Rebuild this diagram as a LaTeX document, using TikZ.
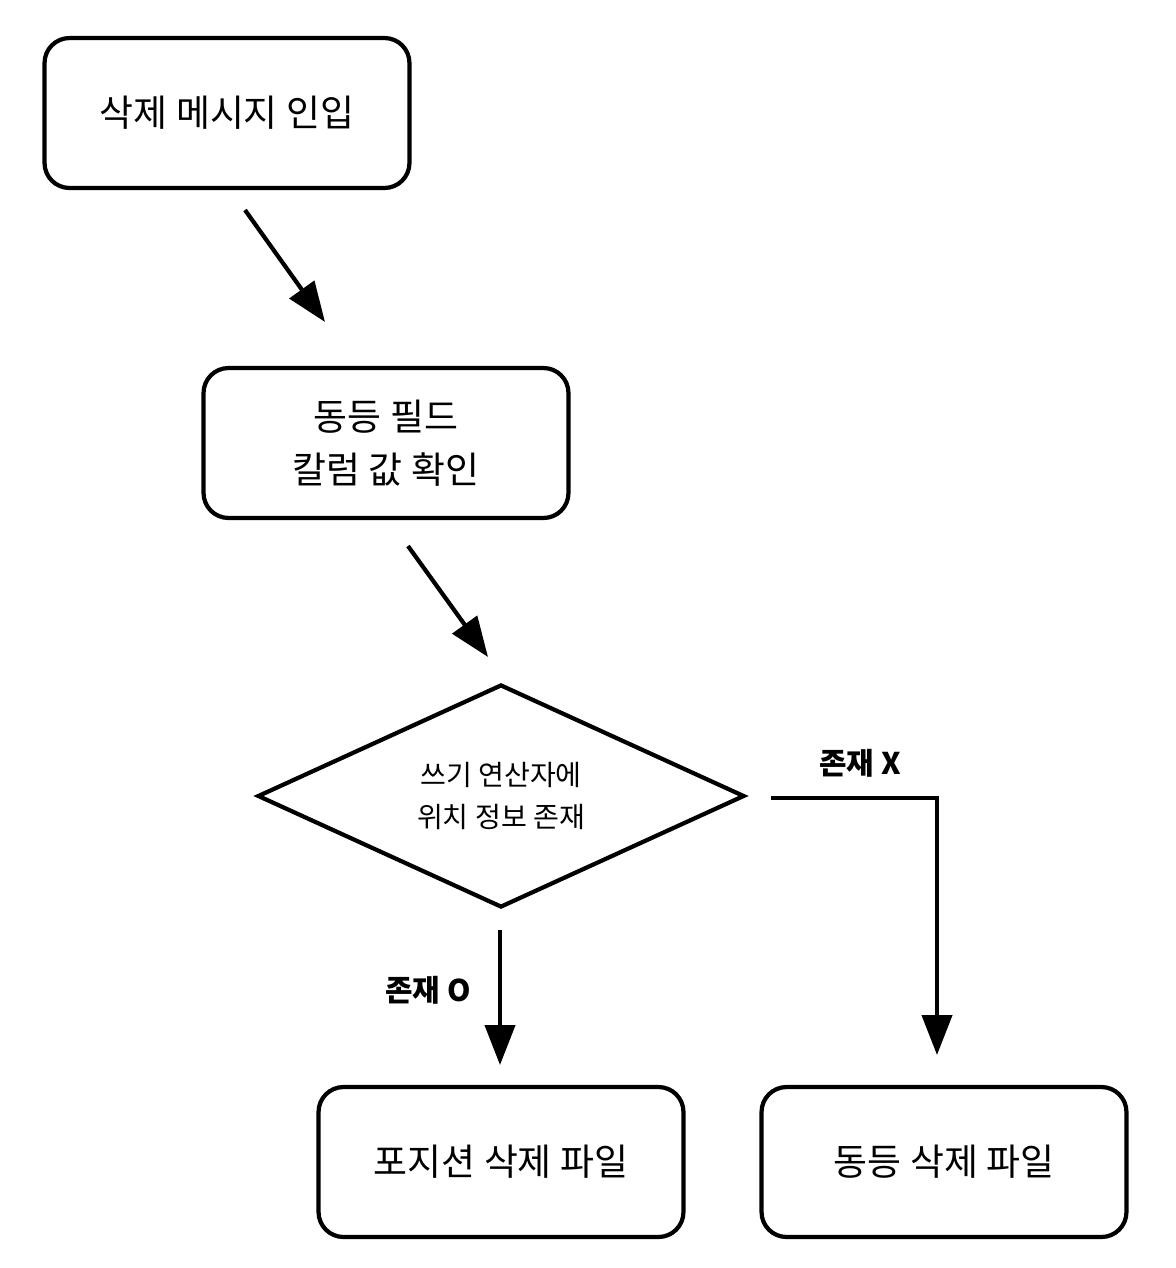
\documentclass[tikz,border=0pt]{standalone}
\usepackage{fontspec}
\setmainfont{Noto Sans CJK KR}
\usetikzlibrary{shapes.geometric,arrows.meta}
\tikzset{
  stage/.style={draw, line width=2.4pt, rounded corners=0.5cm, minimum width=7.3cm,
    minimum height=3cm, align=center, font=\fontsize{21}{30}\selectfont},
  check/.style={draw, diamond, line width=2.4pt, minimum width=9.74cm, minimum height=4.46cm,
    inner sep=0pt, aspect=2.18, align=center, font=\fontsize{16}{24}\selectfont},
  flow/.style={line width=2.4pt, arrows={-Triangle[length=0.8cm,width=0.6cm]}},
  tag/.style={font=\bfseries\fontsize{17}{20}\selectfont}
}
\begin{document}
\begin{tikzpicture}[x=0.02cm,y=-0.02cm]
  \useasboundingbox (0,0) rectangle (1176,1268);

  \node[stage] (input) at (227,113) {삭제 메시지 인입};
  \node[stage] (field) at (386,443) {동등 필드\\칼럼 값 확인};
  \node[check] (pos) at (501,796) {쓰기 연산자에\\위치 정보 존재};
  \node[stage] (posdel) at (501,1162) {포지션 삭제 파일};
  \node[stage] (eqdel) at (944,1162) {동등 삭제 파일};

  \coordinate (a1s) at (245,210);   \coordinate (a1e) at (325,322);
  \coordinate (a2s) at (408,546);   \coordinate (a2e) at (488,657);
  \coordinate (a3s) at (500,930);   \coordinate (a3e) at (500,1065);
  \coordinate (a4s) at (771,798);   \coordinate (a4c) at (937,798);
  \coordinate (a4e) at (937,1055);

  \draw[flow] (a1s) -- (a1e);
  \draw[flow] (a2s) -- (a2e);
  \draw[flow] (a3s) -- (a3e);
  \draw[flow] (a4s) -- (a4c) -- (a4e);

  \node[tag] (yes) at (428,990) {존재 O};
  \node[tag] (no) at (860,763) {존재 X};
\end{tikzpicture}
\end{document}
